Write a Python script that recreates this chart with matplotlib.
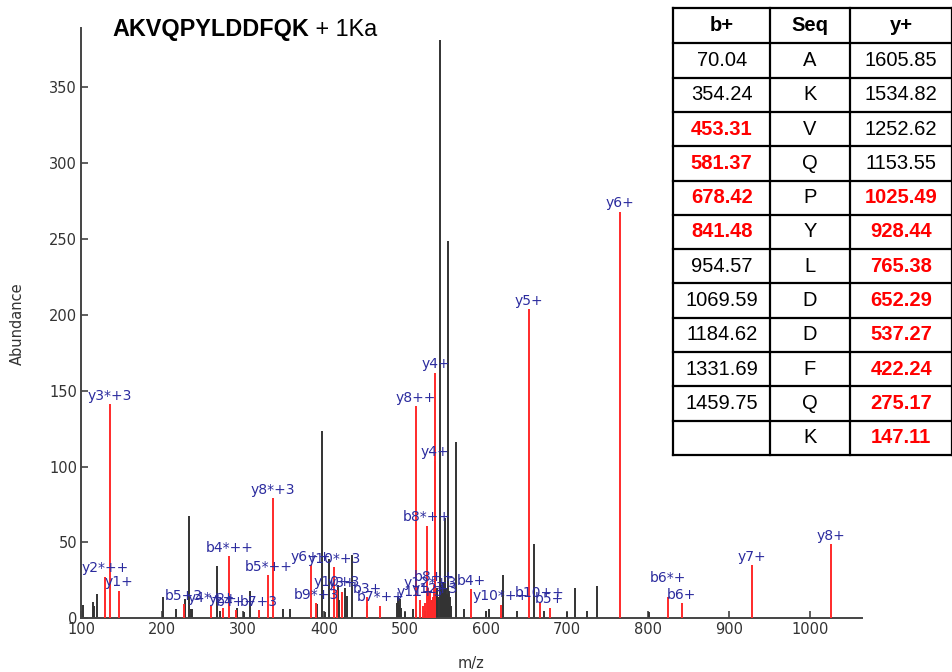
import matplotlib
matplotlib.use('Agg')
import matplotlib.pyplot as plt

# ---------------- data ----------------
# unmatched (black) peaks
peak_mz = [101.8, 115.0, 116.2, 119.9, 200.6, 216.6, 227.7, 233.5, 235.2, 237.2,
           267.3, 271.5, 292.0, 301.4, 308.4, 348.7, 357.8, 391.5, 397.7, 401.4,
           406.3, 417.4, 418.8, 425.7, 427.7, 434.7, 452.5, 489.8, 490.6, 491.4,
           492.3, 493.2, 494.5, 499.8, 510.0, 524.0, 528.5, 531.0, 533.0, 536.5,
           538.2, 539.6, 541.0, 542.6, 544.0, 545.3, 546.5, 547.6, 548.8, 550.0,
           551.3, 552.8, 554.0, 555.2, 556.5, 562.5, 572.6, 600.0, 603.6, 620.5,
           638.0, 659.5, 671.0, 700.3, 710.0, 724.0, 736.4, 800.6]
peak_int = [8.5, 10.6, 8.0, 15.8, 14.3, 6.0, 13.0, 67.6, 6.0, 6.0,
            34.5, 5.0, 6.6, 4.4, 18.0, 6.0, 6.0, 9.4, 123.7, 4.0,
            39.0, 22.0, 12.0, 20.0, 15.0, 42.0, 8.0, 10.0, 14.0, 12.0,
            9.0, 13.0, 7.0, 4.0, 6.0, 5.0, 8.0, 10.0, 12.0, 16.0,
            18.0, 20.0, 14.0, 381.5, 22.0, 18.0, 24.0, 20.0, 66.0, 20.0,
            16.0, 248.5, 18.0, 14.0, 8.0, 116.5, 6.0, 5.0, 6.0, 28.5,
            5.0, 49.0, 5.0, 4.0, 20.0, 5.0, 21.0, 4.0]

# matched (red) fragment ions
ion_labels = ["y2*++", "y3*+3", "y1+", "b5+3", "y4*++", "y2+", "b4*++", "b4++",
              "b7+3", "b5*++", "y8*+3", "y6++", "b9*+3", "y10*+3", "y10+3", "y3+",
              "b3+", "b7*++", "y8++", "y11+3", "", "", "b8*++", "",
              "", "y12*+3", "", "", "", "b8++", "y12+3", "y4+",
              "y4+", "b4+", "y10*++", "y5+", "b10++", "b5+", "y6+", "b6*+",
              "b6+", "y7+", "y8+"]
ion_mz = [129.6, 135.7, 147.1, 226.8, 260.6, 275.2, 282.7, 291.2,
          318.9, 331.2, 336.8, 383.2, 389.9, 412.0, 415.4, 422.2,
          453.3, 469.3, 513.3, 518.3, 522.0, 524.5, 526.8, 528.0,
          529.5, 530.3, 531.5, 533.0, 534.0, 535.3, 536.0, 536.3,
          537.3, 581.4, 618.3, 652.3, 666.3, 678.4, 765.4, 824.5,
          841.5, 928.4, 1025.5]
ion_int = [27.4, 141.0, 18.2, 9.4, 8.0, 7.0, 41.0, 5.5,
           5.5, 28.5, 79.0, 35.0, 10.0, 33.6, 18.6, 17.5,
           14.0, 8.3, 140.0, 12.0, 8.0, 10.0, 61.0, 20.0,
           15.0, 18.0, 12.0, 10.0, 14.0, 22.0, 14.0, 104.0,
           162.0, 19.0, 9.0, 204.0, 11.0, 7.0, 268.0, 14.0,
           10.0, 35.0, 49.0]

x_ticks = [100, 200, 300, 400, 500, 600, 700, 800, 900, 1000]
y_ticks = [0, 50, 100, 150, 200, 250, 300, 350]

# table
seq = ['A', 'K', 'V', 'Q', 'P', 'Y', 'L', 'D', 'D', 'F', 'Q', 'K']
b_ions = ['70.04', '354.24', '453.31', '581.37', '678.42', '841.48', '954.57',
          '1069.59', '1184.62', '1331.69', '1459.75', '']
y_ions = ['1605.85', '1534.82', '1252.62', '1153.55', '1025.49', '928.44',
          '765.38', '652.29', '537.27', '422.24', '275.17', '147.11']
b_matched = [False, False, True, True, True, True, False, False, False, False, False, False]
y_matched = [False, False, False, False, True, True, True, True, True, True, True, True]
table_header = ['b+', 'Seq', 'y+']

title_bold = 'AKVQPYLDDFQK'
title_rest = ' + 1Ka'

# ---------------- figure ----------------
W, H = 953, 672
fig = plt.figure(figsize=(W / 100, H / 100), dpi=100)
fig.patch.set_facecolor('white')

ax_l, ax_r, ax_b, ax_t = 81.2, 861.7, 618.3, 28.3
ax = fig.add_axes([ax_l / W, 1 - ax_b / H, (ax_r - ax_l) / W, (ax_b - ax_t) / H])

BLACK = '#333333'
RED = '#ff2a2a'
BLUE = '#2b2b9e'
GREY = '#444444'

ax.vlines(peak_mz, 0, peak_int, colors=BLACK, lw=1.4, zorder=2)
ax.vlines(ion_mz, 0, ion_int, colors=RED, lw=1.4, zorder=3)

extra = {'b6*+': 8}
for lab, mz, it in zip(ion_labels, ion_mz, ion_int):
    if not lab:
        continue
    ax.annotate(lab, (mz, it), xytext=(0, 1.0 + extra.get(lab, 0)),
                textcoords='offset points', ha='center', va='bottom',
                color=BLUE, fontsize=10, family='DejaVu Sans',
                annotation_clip=False, zorder=4)

ax.set_xlim(100, 1063.5)
ax.set_ylim(0, 389)
ax.set_xticks(x_ticks)
ax.set_yticks(y_ticks)
for s in ['top', 'right']:
    ax.spines[s].set_visible(False)
for s in ['left', 'bottom']:
    ax.spines[s].set_color(GREY)
    ax.spines[s].set_linewidth(1.4)
ax.tick_params(direction='in', length=5, width=1.2, color=GREY,
               labelcolor='#333333', labelsize=10.5, pad=3)
ax.set_xlabel('m/z', fontsize=10.5, color='#333333', labelpad=13)
ax.set_ylabel('Abundance', fontsize=10.5, color='#333333', labelpad=17)

# title (bold part + normal part)
t1 = fig.text(112 / W, 1 - 36 / H, title_bold, fontsize=16.8, fontweight='bold',
              family='Liberation Sans', va='baseline', ha='left')
fig.canvas.draw()
bb = t1.get_window_extent(renderer=fig.canvas.get_renderer())
fig.text(bb.x1 / W, 1 - 36 / H, title_rest, fontsize=16.8,
         family='Liberation Sans', va='baseline', ha='left')

# ---------------- table ----------------
tax = fig.add_axes([0, 0, 1, 1], zorder=10)
tax.set_xlim(0, W)
tax.set_ylim(H, 0)
tax.axis('off')
tax.patch.set_alpha(0)

col_edges = [673.3, 770.0, 850.0, 952.3]
row_edges = [8.3, 43.3] + [43.3 + 34.3 * (k + 1) for k in range(len(seq))]
tax.add_patch(plt.Rectangle((col_edges[0], row_edges[0]), col_edges[-1] - col_edges[0],
                            row_edges[-1] - row_edges[0], facecolor='white',
                            edgecolor='none', zorder=1))
for x in col_edges:
    tax.plot([x, x], [row_edges[0], row_edges[-1]], color='black', lw=1.6, zorder=3,
             solid_capstyle='projecting')
for y in row_edges:
    tax.plot([col_edges[0], col_edges[-1]], [y, y], color='black', lw=1.6, zorder=3,
             solid_capstyle='projecting')

col_c = [(col_edges[i] + col_edges[i + 1]) / 2 for i in range(3)]
FS = 14.5
for i, h in enumerate(table_header):
    tax.text(col_c[i], (row_edges[0] + row_edges[1]) / 2, h, ha='center', va='center',
             fontsize=FS, fontweight='bold', family='Liberation Sans', zorder=4)
for r in range(len(seq)):
    yc = (row_edges[r + 1] + row_edges[r + 2]) / 2
    tax.text(col_c[0], yc, b_ions[r], ha='center', va='center', fontsize=FS,
             family='Liberation Sans', zorder=4,
             color='#ff0000' if b_matched[r] else 'black',
             fontweight='bold' if b_matched[r] else 'normal')
    tax.text(col_c[1], yc, seq[r], ha='center', va='center', fontsize=FS,
             family='Liberation Sans', zorder=4)
    tax.text(col_c[2], yc, y_ions[r], ha='center', va='center', fontsize=FS,
             family='Liberation Sans', zorder=4,
             color='#ff0000' if y_matched[r] else 'black',
             fontweight='bold' if y_matched[r] else 'normal')

fig.savefig('out.png', dpi=100, facecolor='white')
